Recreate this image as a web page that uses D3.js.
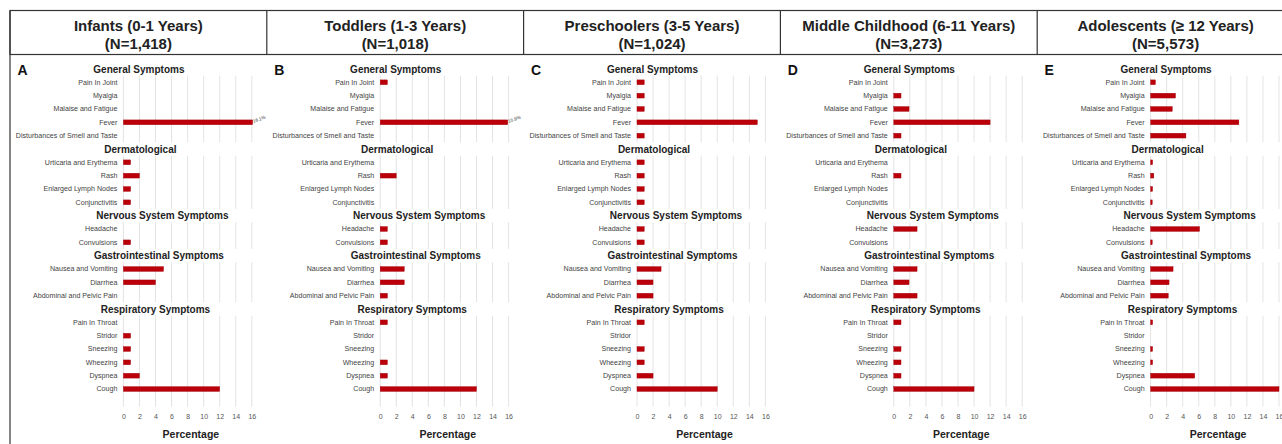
<!DOCTYPE html>
<html>
<head>
<meta charset="utf-8">
<script src="https://cdn.jsdelivr.net/npm/d3@7"></script>
<style>
  html, body { margin: 0; padding: 0; background: #fff; }
  svg { display: block; font-family: "Liberation Sans", Arial, sans-serif; }
</style>
</head>
<body>
<svg id="chart" width="1282" height="444"></svg>
<script>
// symptom prevalence by age group, five small-multiple bar panels

const groupNames = ["Infants (0-1 Years)", "Toddlers (1-3 Years)", "Preschoolers (3-5 Years)",
  "Middle Childhood (6-11 Years)", "Adolescents (\u2265 12 Years)"];
const groupN = ["(N=1,418)", "(N=1,018)", "(N=1,024)", "(N=3,273)", "(N=5,573)"];
const panelLetters = ["A", "B", "C", "D", "E"];

const sections = ["General Symptoms", "Dermatological", "Nervous System Symptoms",
  "Gastrointestinal Symptoms", "Respiratory Symptoms"];
const generalSymptoms = ["Pain In Joint", "Myalgia", "Malaise and Fatigue", "Fever", "Disturbances of Smell and Taste"];
const dermSymptoms = ["Urticaria and Erythema", "Rash", "Enlarged Lymph Nodes", "Conjunctivitis"];
const nervousSymptoms = ["Headache", "Convulsions"];
const giSymptoms = ["Nausea and Vomiting", "Diarrhea", "Abdominal and Pelvic Pain"];
const respSymptoms = ["Pain In Throat", "Stridor", "Sneezing", "Wheezing", "Dyspnea", "Cough"];
const sectionSymptoms = [generalSymptoms, dermSymptoms, nervousSymptoms, giSymptoms, respSymptoms];

// percentages, in the symptom order above (general, derm, nervous, GI, respiratory)
const infants     = [0, 0, 0, 16.1, 0,   0.9, 2.0, 0.9, 0.9,   0, 0.9,   5.0, 4.0, 0,     0, 0.9, 0.9, 0.9, 2.0, 12.0];
const toddlers    = [0.9, 0, 0, 15.9, 0, 0, 2.0, 0, 0,         0.9, 0.9, 3.0, 3.0, 0.9,   0.9, 0, 0, 0.9, 0.9, 12.0];
const preschool   = [0.9, 0.9, 0.9, 15.0, 0.9, 0.9, 0.9, 0.9, 0.9, 0.9, 0.9, 3.0, 2.0, 2.0, 0.9, 0, 0.9, 0.9, 2.0, 10.0];
const middle      = [0, 0.9, 1.9, 12.0, 0.9, 0, 0.9, 0, 0,     2.9, 0,   2.9, 1.9, 2.9,   0.9, 0, 0.9, 0.9, 0.9, 10.0];
const adolescents = [0.6, 3.1, 2.7, 11.0, 4.4, 0.25, 0.4, 0.25, 0.2, 6.1, 0.2, 2.8, 2.3, 2.2, 0.25, 0, 0.25, 0.25, 5.5, 16.0];
const groupValues = [infants, toddlers, preschool, middle, adolescents];

// fever labels drawn only on the first two panels
const feverLabels = ["16.1%", "15.9%", null, null, null];

const xTicks = [0, 2, 4, 6, 8, 10, 12, 14, 16];

// ---------- layout ----------
const RED = "#bb000a", INK = "#222", LABEL = "#444";
const PANEL_W = 256.8, LEFT = 10;
const PLOT_OFF = 113.4, PLOT_W = 128.4;
const headOffset = [15.5, 17, 39, 35.5, 32];   // section title centre, relative to x=0

const svg = d3.select("#chart");

// slot scale: one band per heading and per symptom row
const slotKeys = [];
sections.forEach((s, i) => {
  slotKeys.push("h|" + s);
  sectionSymptoms[i].forEach(sym => slotKeys.push("r|" + s + "|" + sym));
});
const y = d3.scaleBand().domain(slotKeys).range([62.3, 395.7]);
const bw = y.bandwidth();
const yc = k => y(k) + bw / 2;

// header box
const head = svg.append("g");
head.append("rect").attr("x", LEFT).attr("y", 10.5).attr("width", 1290).attr("height", 44)
  .attr("fill", "none").attr("stroke", "#333").attr("stroke-width", 1.2);
head.append("line").attr("x1", LEFT).attr("x2", LEFT).attr("y1", 10.5).attr("y2", 444)
  .attr("stroke", "#333").attr("stroke-width", 1.2);
groupNames.forEach((g, i) => {
  const ox = LEFT + i * PANEL_W;
  if (i > 0) head.append("line").attr("x1", ox).attr("x2", ox).attr("y1", 10.5).attr("y2", 54.5)
    .attr("stroke", "#333").attr("stroke-width", 1.2);
  const cx = ox + PANEL_W / 2;
  head.append("text").attr("x", cx).attr("y", 31).attr("text-anchor", "middle")
    .attr("font-size", 15).attr("font-weight", "bold").attr("fill", INK).text(g);
  head.append("text").attr("x", cx).attr("y", 49).attr("text-anchor", "middle")
    .attr("font-size", 15).attr("font-weight", "bold").attr("fill", INK).text(groupN[i]);
});

// panels
groupValues.forEach((vals, gi) => {
  const x0 = LEFT + gi * PANEL_W + PLOT_OFF;
  const x = d3.scaleLinear().domain([0, 16]).range([x0, x0 + PLOT_W]);
  const g = svg.append("g");

  g.append("text").attr("x", x0 - 106).attr("y", 75).attr("font-size", 14)
    .attr("font-weight", "900").attr("fill", "#111").text(panelLetters[gi]);

  let vi = 0;
  sections.forEach((s, si) => {
    const syms = sectionSymptoms[si];
    const top = y("r|" + s + "|" + syms[0]);
    let bot = y("r|" + s + "|" + syms[syms.length - 1]) + bw;
    if (si === sections.length - 1) bot += 11;

    g.append("g").selectAll("line").data(xTicks).join("line")
      .attr("x1", d => x(d)).attr("x2", d => x(d)).attr("y1", top).attr("y2", bot)
      .attr("stroke", "#dcdcdc").attr("stroke-width", 0.8);

    g.append("text").attr("x", x0 + headOffset[si]).attr("y", yc("h|" + s) + 3.6)
      .attr("text-anchor", "middle").attr("font-size", 10).attr("font-weight", "bold")
      .attr("fill", INK).text(s);

    const rows = syms.map(sym => ({ key: "r|" + s + "|" + sym, sym, v: vals[vi++] }));
    g.append("g").selectAll("text").data(rows).join("text")
      .attr("x", x0 - 6).attr("y", d => yc(d.key) + 2.4).attr("text-anchor", "end")
      .attr("font-size", 7.1).attr("fill", LABEL).text(d => d.sym);
    g.append("g").selectAll("rect").data(rows.filter(d => d.v > 0)).join("rect")
      .attr("x", x(0)).attr("y", d => yc(d.key) - 2.4)
      .attr("width", d => x(d.v) - x(0)).attr("height", 4.8)
      .attr("fill", RED).attr("stroke", "#9e0008").attr("stroke-width", 0.4);

    if (si === 0 && feverLabels[gi]) {
      const fv = rows.find(d => d.sym === "Fever");
      g.append("text").attr("font-size", 4.6).attr("fill", "#333")
        .attr("transform", `translate(${x(fv.v) + 1},${yc(fv.key) + 0.5}) rotate(-20)`)
        .text(feverLabels[gi]);
    }
  });

  const axis = d3.axisBottom(x).tickValues(xTicks).tickSize(0).tickPadding(0);
  const ax = g.append("g").attr("transform", "translate(0,414.5)").call(axis);
  ax.select(".domain").remove();
  ax.selectAll("text").attr("font-size", 7).attr("fill", "#555")
    .attr("font-family", "Liberation Sans, Arial, sans-serif");

  g.append("text").attr("x", x0 + 67.5).attr("y", 438).attr("text-anchor", "middle")
    .attr("font-size", 10.5).attr("font-weight", "bold").attr("fill", INK).text("Percentage");
});
</script>
</body>
</html>
